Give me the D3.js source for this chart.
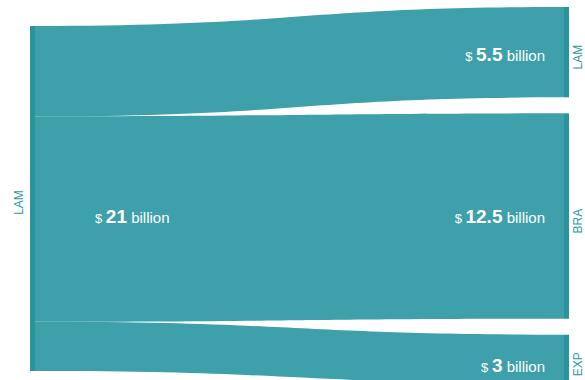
<!DOCTYPE html>
<html>
<head>
<meta charset="utf-8">
<script src="https://cdn.jsdelivr.net/npm/d3@7"></script>
<style>
  html, body { margin: 0; padding: 0; background: #fff; }
  svg { display: block; font-family: "Liberation Sans", Arial, sans-serif; }
</style>
</head>
<body>
<svg id="chart" width="585" height="380"></svg>
<script>
// Flows from one region to its destinations (USD billions)
const sourceName = "LAM";
const targetNames = ["LAM", "BRA", "EXP"];
const flowValues = [5.5, 12.5, 3];

const width = 585, height = 380;
const svg = d3.select("#chart");

const linkColor = "#3da0aa";
const nodeColor = "#2a949d";
const labelColor = "#2b9aa5";

const total = d3.sum(flowValues);

// vertical value scale shared by nodes and links
const k = d3.scaleLinear().domain([0, total]).range([0, 345]);

const srcX0 = 30, srcX1 = 35, srcTop = 26;
const tgtX0 = 564, tgtX1 = 569, tgtTop = 7, tgtPad = 16;

// stack the links on the source side
let acc = 0;
const links = flowValues.map((v, i) => {
  const s0 = srcTop + k(acc);
  acc += v;
  return { name: targetNames[i], value: v, s0, s1: srcTop + k(acc) };
});
// place target nodes with padding
let ty = tgtTop;
links.forEach(l => {
  l.t0 = ty;
  l.t1 = ty + k(l.value);
  ty = l.t1 + tgtPad;
});

function ribbon(l) {
  const xm = (srcX1 + tgtX0) / 2;
  const p = d3.path();
  p.moveTo(srcX1, l.s0);
  p.bezierCurveTo(xm, l.s0, xm, l.t0, tgtX0, l.t0);
  p.lineTo(tgtX0, l.t1);
  p.bezierCurveTo(xm, l.t1, xm, l.s1, srcX1, l.s1);
  p.closePath();
  return p.toString();
}

svg.append("g").selectAll("path")
  .data(links)
  .join("path")
  .attr("d", ribbon)
  .attr("fill", linkColor);

// source node
svg.append("rect")
  .attr("x", srcX0).attr("y", srcTop)
  .attr("width", srcX1 - srcX0).attr("height", k(total))
  .attr("fill", nodeColor);

// target nodes
svg.append("g").selectAll("rect")
  .data(links)
  .join("rect")
  .attr("x", tgtX0).attr("y", d => d.t0)
  .attr("width", tgtX1 - tgtX0).attr("height", d => d.t1 - d.t0)
  .attr("fill", nodeColor);

// node names, rotated
function nodeName(x, y, text) {
  svg.append("text")
    .attr("transform", `translate(${x},${y}) rotate(-90)`)
    .attr("text-anchor", "middle")
    .attr("fill", labelColor)
    .attr("font-size", 12)
    .text(text);
}
nodeName(23, (srcTop + srcTop + k(total)) / 2 + 4, sourceName);
links.forEach(l => nodeName(582, (l.t0 + l.t1) / 2 + 5, l.name));

// value labels
function valueLabel(x, y, value, anchor) {
  const t = svg.append("text")
    .attr("x", x).attr("y", y)
    .attr("text-anchor", anchor)
    .attr("fill", "#fff");
  t.append("tspan").attr("font-size", 13).text("$ ");
  t.append("tspan").attr("font-size", 19).attr("font-weight", "bold").text(value);
  t.append("tspan").attr("font-size", 15).text(" billion");
}
const largest = links.reduce((a, b) => (b.value > a.value ? b : a));
valueLabel(95, (largest.t0 + largest.t1) / 2 + 7, total, "start");
const labelShift = [2, 0, 6];
links.forEach((l, i) => valueLabel(545, (l.t0 + l.t1) / 2 + 7 + labelShift[i], l.value, "end"));
</script>
</body>
</html>
